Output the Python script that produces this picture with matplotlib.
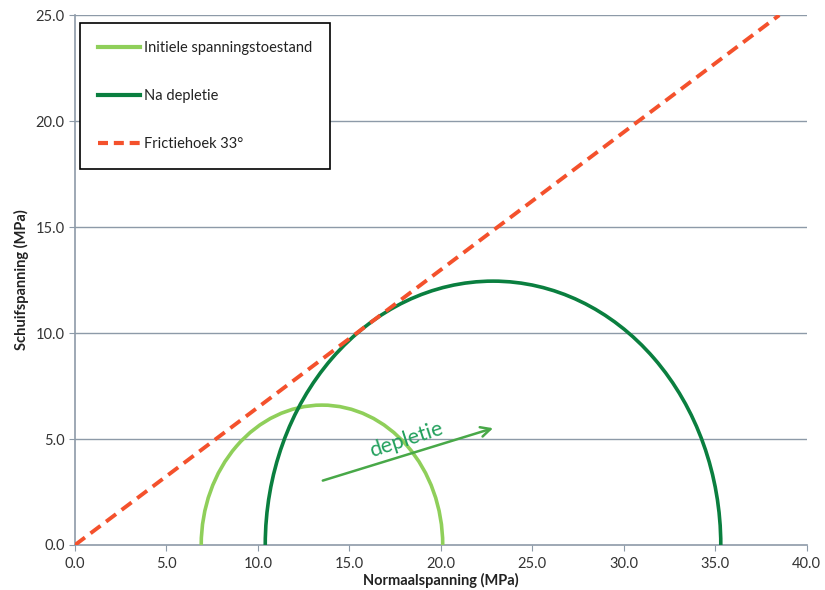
import numpy as np
import matplotlib.pyplot as plt
from matplotlib.patches import Arc
from matplotlib.lines import Line2D

plt.rcParams['font.family'] = ['Lato', 'DejaVu Sans']

# Mohr circles: (sigma3, sigma1) in MPa
circle_names = ["Initiele spanningstoestand", "Na depletie"]
sigma3 = [6.9, 10.4]
sigma1 = [20.1, 35.3]
circle_colors = ["#8fcf5a", "#0a7f3f"]

friction_angle = 33  # degrees
friction_label = "Frictiehoek 33°"

arrow_start = (13.4, 3.0)
arrow_end = (23.0, 5.55)
arrow_text = "depletie"

xticks = np.arange(0, 40.1, 5)
yticks = np.arange(0, 25.1, 5)

fig = plt.figure(figsize=(8.25, 5.9), dpi=100)
ax = fig.add_axes([0.0909, 0.0763, 0.887, 0.898])

grid_col = "#8d9aa8"
for y in yticks[1:]:
    ax.axhline(y, color=grid_col, lw=1.0, zorder=1)

for s3, s1, c in zip(sigma3, sigma1, circle_colors):
    centre = (s1 + s3) / 2
    diam = s1 - s3
    ax.add_patch(Arc((centre, 0), diam, diam, theta1=0, theta2=180,
                     color=c, lw=2.6, zorder=3))

ax.axline((0, 0), slope=np.tan(np.radians(friction_angle)), color="#f4512c",
          lw=2.8, ls=(0, (3.2, 1.8)), zorder=4)

ax.annotate("", xy=arrow_end, xytext=arrow_start,
            arrowprops=dict(arrowstyle="->,head_length=0.7,head_width=0.35",
                            color="#48a848", lw=1.8), zorder=5)
ax.text(18.1, 4.95, arrow_text, color="#22a05c", fontsize=15.5, rotation=18,
        ha="center", va="center", zorder=5)

ax.set_xlim(0, 40)
ax.set_ylim(0, 25)
ax.set_xticks(xticks)
ax.set_yticks(yticks)
ax.set_xticklabels([f"{v:.1f}" for v in xticks])
ax.set_yticklabels([f"{v:.1f}" for v in yticks])
ax.tick_params(colors=grid_col, labelcolor="#333333", labelsize=10.5, length=4)
ax.tick_params(axis="x", pad=5)
for s in ["top", "right"]:
    ax.spines[s].set_visible(False)
for s in ["left", "bottom"]:
    ax.spines[s].set_color(grid_col)
    ax.spines[s].set_linewidth(1.2)

ax.set_xlabel("Normaalspanning (MPa)", fontweight="bold", fontsize=10.5,
              color="#222222", labelpad=1)
ax.set_ylabel("Schuifspanning (MPa)", fontweight="bold", fontsize=10.5,
              color="#222222", labelpad=5)

handles = [Line2D([], [], color=c, lw=3) for c in circle_colors]
handles.append(Line2D([], [], color="#f4512c", lw=3, ls=(0, (2.4, 1.4))))
leg = ax.legend(handles, circle_names + [friction_label],
                loc="upper left", bbox_to_anchor=(0.007, 0.985),
                borderaxespad=0, fontsize=10.5, frameon=True, fancybox=False,
                edgecolor="black", framealpha=1, labelspacing=2.35,
                borderpad=1.2, handlelength=2.9, handletextpad=0.3)
leg.get_frame().set_linewidth(1.2)
for t in leg.get_texts():
    t.set_color("#222222")

fig.savefig("out.png", dpi=100)
